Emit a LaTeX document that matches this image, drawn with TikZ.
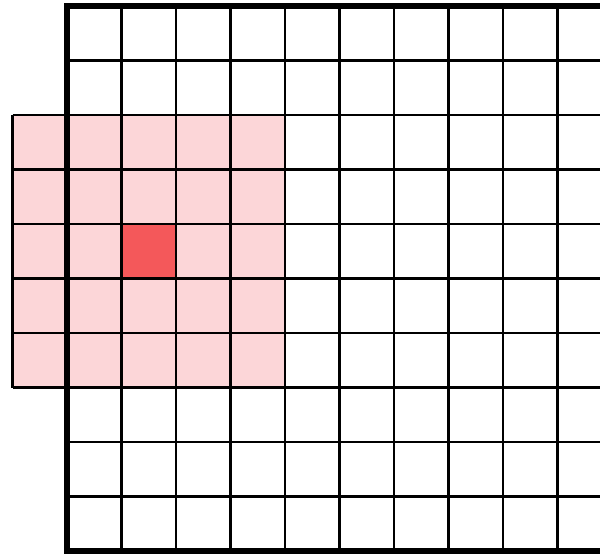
\documentclass[tikz,border=0pt]{standalone}
\definecolor{pinkcell}{RGB}{252,214,216}
\definecolor{redcell}{RGB}{244,88,90}
\tikzset{
  gridline/.style={draw=black, line width=2.6pt},
  borderline/.style={draw=black, line width=6pt},
}
\begin{document}
\begin{tikzpicture}[x=1pt,y=-1pt]
\useasboundingbox (0,0) rectangle (600,554);
\fill[white] (0,0) rectangle (600,554);
% pink neighbourhood (5x5)
\fill[pinkcell] (12.5,115) rectangle (285,387.5);
% red centre cell
\fill[redcell] (121.5,224) rectangle (176,278.5);
% main grid lines
\foreach \k in {1,...,9} {
  \draw[gridline] ({67+54.5*\k},6) -- ({67+54.5*\k},551);
}
\foreach \k in {1,...,9} {
  \draw[gridline] (67,{6+54.5*\k}) -- (600,{6+54.5*\k});
}
% pink region lines outside the grid
\draw[gridline] (12.5,115) -- (12.5,387.5);
\foreach \k in {2,...,7} {
  \draw[gridline] (12.5,{6+54.5*\k}) -- (67,{6+54.5*\k});
}
% thick border
\draw[borderline] (600,6) -- (67,6) -- (67,551) -- (600,551);
\end{tikzpicture}
\end{document}
